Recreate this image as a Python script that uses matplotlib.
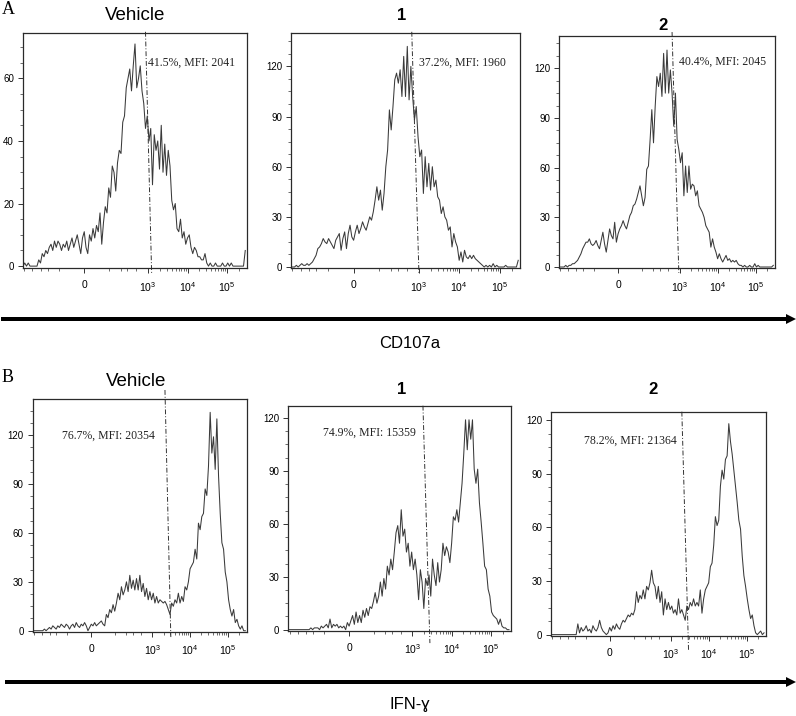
"""
cd107a_ifng_histograms.py

Flow cytometry histograms of CD107a (row A) and IFN-ɣ (row B)
for Vehicle, 1 and 2, drawn on a biexponential channel axis.
"""

import numpy as np
import matplotlib
matplotlib.use("Agg")
import matplotlib.pyplot as plt
from matplotlib.patches import FancyArrow
from matplotlib.ticker import FixedLocator, MultipleLocator

W, H = 796, 716

# histogram bins: display channel 0..254
channels = list(range(0, 256, 2))

groups = ["Vehicle", "1", "2"]

# --- row A: CD107a counts per bin ---
cd107a_vehicle = [
    0, 1, 0, 1, 0, 0, 0, 0, 0, 2, 1, 4, 3, 5, 4, 6,
    7, 5, 8, 6, 8, 7, 5, 7, 6, 8, 5, 7, 9, 6, 8, 10,
    7, 4, 9, 11, 6, 4, 10, 8, 12, 9, 13, 11, 17, 7, 14, 19,
    17, 25, 22, 32, 30, 24, 33, 37, 36, 46, 48, 57, 60, 63, 56, 64,
    71, 57, 60, 64, 56, 52, 44, 48, 40, 44, 26, 42, 37, 40, 31, 45,
    30, 39, 29, 37, 32, 21, 18, 20, 12, 11, 15, 9, 11, 7, 9, 10,
    6, 4, 6, 5, 3, 3, 2, 2, 4, 1, 0, 1, 0, 0, 1, 0,
    0, 0, 1, 0, 0, 1, 0, 1, 0, 0, 0, 0, 0, 0, 0, 5]
cd107a_cpd1 = [
    0, 0, 0, 1, 0, 1, 2, 1, 1, 2, 1, 2, 3, 5, 7, 11,
    12, 14, 17, 15, 14, 17, 15, 13, 11, 16, 18, 20, 10, 17, 21, 11,
    20, 25, 18, 16, 21, 25, 20, 23, 27, 24, 22, 26, 30, 28, 33, 40,
    48, 40, 46, 34, 44, 60, 70, 94, 82, 96, 112, 116, 110, 118, 102, 126,
    102, 132, 100, 120, 102, 88, 96, 78, 66, 70, 44, 66, 48, 62, 46, 60,
    48, 52, 42, 40, 32, 36, 30, 28, 22, 24, 12, 20, 15, 12, 4, 9,
    3, 10, 6, 5, 7, 5, 7, 5, 4, 3, 2, 1, 0, 1, 0, 1,
    0, 2, 0, 1, 0, 0, 0, 0, 1, 0, 0, 0, 0, 0, 0, 4]
cd107a_cpd2 = [
    0, 0, 0, 0, 1, 0, 1, 1, 2, 2, 3, 4, 6, 8, 11, 13,
    15, 15, 17, 14, 13, 14, 16, 13, 11, 16, 21, 14, 9, 16, 23, 19,
    17, 27, 15, 20, 23, 25, 28, 25, 23, 27, 31, 33, 37, 38, 41, 45,
    49, 43, 37, 42, 59, 61, 77, 95, 75, 97, 115, 109, 117, 103, 129, 105,
    131, 105, 119, 105, 85, 105, 77, 71, 63, 69, 43, 61, 45, 61, 47, 50,
    49, 43, 46, 37, 35, 33, 30, 25, 23, 21, 12, 17, 12, 9, 5, 8,
    5, 3, 5, 7, 4, 5, 3, 4, 3, 4, 2, 1, 1, 0, 1, 0,
    0, 1, 0, 0, 2, 0, 1, 0, 0, 0, 0, 0, 0, 0, 0, 1]

# --- row B: IFN-ɣ counts per bin ---
ifng_vehicle = [
    0, 0, 0, 0, 0, 0, 0, 1, 0, 1, 2, 1, 3, 2, 1, 3,
    2, 4, 3, 2, 4, 3, 1, 3, 4, 2, 5, 3, 2, 4, 3, 5,
    3, 0, 2, 4, 3, 5, 3, 4, 5, 6, 4, 3, 10, 8, 13, 11,
    16, 12, 17, 23, 19, 27, 22, 25, 30, 24, 34, 26, 31, 25, 32, 25,
    34, 24, 29, 21, 26, 19, 24, 19, 23, 17, 21, 17, 19, 18, 17, 18,
    16, 13, 10, 17, 15, 19, 17, 23, 17, 21, 18, 27, 25, 30, 38, 40,
    42, 50, 44, 66, 62, 70, 72, 87, 83, 101, 134, 109, 119, 99, 130, 95,
    72, 54, 50, 36, 30, 19, 13, 9, 13, 5, 7, 3, 1, 3, 0, 0]
ifng_cpd1 = [
    0, 0, 0, 0, 0, 0, 0, 0, 0, 0, 0, 0, 0, 1, 0, 1,
    1, 1, 0, 2, 1, 2, 3, 1, 6, 1, 3, 2, 3, 1, 2, 1,
    2, 0, 4, 2, 5, 8, 3, 10, 4, 8, 4, 11, 7, 12, 8, 13,
    12, 16, 21, 15, 19, 27, 19, 29, 23, 36, 31, 40, 34, 44, 55, 59,
    49, 68, 53, 57, 44, 49, 36, 44, 34, 40, 31, 17, 34, 27, 12, 29,
    25, 31, 19, 40, 31, 25, 38, 27, 34, 49, 42, 47, 44, 38, 49, 64,
    62, 68, 61, 72, 83, 100, 119, 102, 119, 108, 119, 91, 83, 91, 72, 61,
    49, 36, 34, 23, 19, 10, 8, 7, 6, 3, 6, 2, 1, 1, 0, 0]
ifng_cpd2 = [
    0, 0, 0, 0, 0, 0, 0, 0, 0, 0, 0, 0, 0, 0, 0, 0,
    6, 1, 4, 2, 3, 5, 2, 3, 1, 5, 3, 2, 4, 8, 4, 2,
    1, 0, 1, 4, 2, 5, 3, 6, 4, 3, 6, 8, 7, 9, 11, 10,
    12, 11, 14, 24, 18, 22, 20, 25, 20, 27, 25, 29, 36, 29, 27, 20,
    27, 18, 24, 11, 20, 14, 18, 14, 16, 12, 14, 11, 20, 12, 14, 11,
    8, 16, 14, 18, 16, 20, 16, 18, 16, 25, 12, 20, 25, 27, 29, 38,
    40, 50, 66, 61, 64, 83, 92, 87, 98, 100, 118, 108, 101, 92, 83, 74,
    64, 59, 44, 33, 27, 20, 14, 9, 11, 5, 1, 0, 1, 2, 0, 1]

# gate stats shown in each panel
cd107a_stats = ["41.5%, MFI: 2041", "37.2%, MFI: 1960", "40.4%, MFI: 2045"]
ifng_stats = ["76.7%, MFI: 20354", "74.9%, MFI: 15359", "78.2%, MFI: 21364"]

# gate marker channel (top end, bottom end; the scan is slightly skewed)
cd107a_gate_top = [140, 135, 134]
cd107a_gate_bottom = [147, 143, 142]
ifng_gate_top = [158, 155, 156]
ifng_gate_bottom = [165, 163, 164]

# axis ticks (fluorescence values)
major_values = [0, 1e3, 1e4, 1e5]
major_labels = ["0", r"$\mathregular{10^3}$", r"$\mathregular{10^4}$", r"$\mathregular{10^5}$"]
minor_values = ([-800, -500, -300, -200, -100, 100, 200, 300, 500]
                + [k * 10 ** d for d in (3, 4) for k in range(2, 10)] + [2e5])


def to_channel(value):
    """Biexponential (arcsinh) display channel of a fluorescence value."""
    return 70 + 19.6 * np.arcsinh(np.asarray(value, dtype=float) / 48.5)


def fig_xy(x, y):
    return x / W, 1 - y / H


def draw_panel(fig, box, counts, ymax, ystep, gate, gate_ext, stat, stat_pos):
    left, top, right, bottom = box
    ax = fig.add_axes([left / W, 1 - bottom / H, (right - left) / W, (bottom - top) / H])
    ax.plot(channels, counts, color="#3a3a3a", lw=0.75)
    ax.set_xlim(0, 256)
    ax.set_ylim(-0.6, ymax)

    ax.xaxis.set_major_locator(FixedLocator(to_channel(major_values)))
    ax.set_xticklabels(major_labels)
    ax.xaxis.set_minor_locator(FixedLocator(to_channel(minor_values)))
    ax.yaxis.set_major_locator(MultipleLocator(ystep))
    ax.yaxis.set_minor_locator(MultipleLocator(ystep / 4))
    ax.tick_params(which="major", length=3.5, width=0.7, labelsize=7, pad=3, color="#333")
    ax.tick_params(which="minor", length=2, width=0.6, color="#555")
    ax.tick_params(axis="x", which="major", pad=5, labelsize=7.5)
    for s in ax.spines.values():
        s.set_linewidth(0.9)
        s.set_color("#2a2a2a")

    # gate marker
    ax.plot(gate, [1 + gate_ext[0], -gate_ext[1]], transform=ax.get_xaxis_transform(),
            ls=(0, (5, 2, 1, 2)), lw=0.7, color="#333", clip_on=False)
    ax.text(stat_pos[0], stat_pos[1], stat, transform=ax.transAxes, ha="left", va="center",
            family=["Liberation Serif", "DejaVu Serif"], fontsize=8.5, color="#222")
    return ax


def main():
    plt.rcParams["font.family"] = ["Liberation Sans", "DejaVu Sans"]
    fig = plt.figure(figsize=(W / 100, H / 100), dpi=100)

    boxes_a = [(23, 33, 247, 268), (291, 33, 520, 268), (559, 36, 775, 268)]
    boxes_b = [(32.7, 399.3, 247, 631.7), (288.3, 405.7, 510.7, 630.7), (551, 411.7, 765.7, 635.7)]
    ymax_a = [74.5, 140, 139.5]
    ymax_b = [142, 127, 124.7]
    ystep_a = [20, 30, 30]
    ext_a = [(0.005, 0.021), (0.005, 0.021), (0.017, 0.021)]
    ext_b = [(0.04, 0.023), (0.0, 0.055), (0.0, 0.064)]
    stat_a = [(0.558, 0.872), (0.559, 0.872), (0.556, 0.888)]
    stat_b = [(0.135, 0.842), (0.157, 0.88), (0.154, 0.871)]
    title_a = [(135, 15), (402, 16), (663, 25)]
    title_b = [(136, 382), (401.7, 390), (652.7, 390)]

    cd107a = [cd107a_vehicle, cd107a_cpd1, cd107a_cpd2]
    ifng = [ifng_vehicle, ifng_cpd1, ifng_cpd2]

    for i in range(3):
        draw_panel(fig, boxes_a[i], cd107a[i], ymax_a[i], ystep_a[i],
                   [cd107a_gate_top[i], cd107a_gate_bottom[i]], ext_a[i], cd107a_stats[i], stat_a[i])
        draw_panel(fig, boxes_b[i], ifng[i], ymax_b[i], 30,
                   [ifng_gate_top[i], ifng_gate_bottom[i]], ext_b[i], ifng_stats[i], stat_b[i])
        if groups[i] == "Vehicle":
            style = dict(fontsize=13.5, weight="normal")
        else:
            style = dict(fontsize=12, weight="bold")
        fig.text(*fig_xy(*title_a[i]), groups[i], ha="center", va="center", **style)
        fig.text(*fig_xy(*title_b[i]), groups[i], ha="center", va="center", **style)

    # panel letters
    fig.text(*fig_xy(2, 9), "A", ha="left", va="center", fontsize=13,
             family=["Liberation Serif", "DejaVu Serif"])
    fig.text(*fig_xy(2, 377), "B", ha="left", va="center", fontsize=13,
             family=["Liberation Serif", "DejaVu Serif"])

    # long axis arrows with marker names
    for y_arrow, x0, name, y_name in [(319, 1, "CD107a", 343), (682, 5, "IFN-ɣ", 704)]:
        x_start, y_start = fig_xy(x0, y_arrow)
        x_end, _ = fig_xy(796, y_arrow)
        arrow = FancyArrow(x_start, y_start, x_end - x_start, 0, width=4 / H, head_width=10 / H,
                           head_length=10 / W, length_includes_head=True,
                           transform=fig.transFigure, color="black", lw=0)
        fig.add_artist(arrow)
        fig.text(*fig_xy(410, y_name), name, ha="center", va="center", fontsize=12)

    fig.savefig("out.png", dpi=100)


if __name__ == "__main__":
    main()
